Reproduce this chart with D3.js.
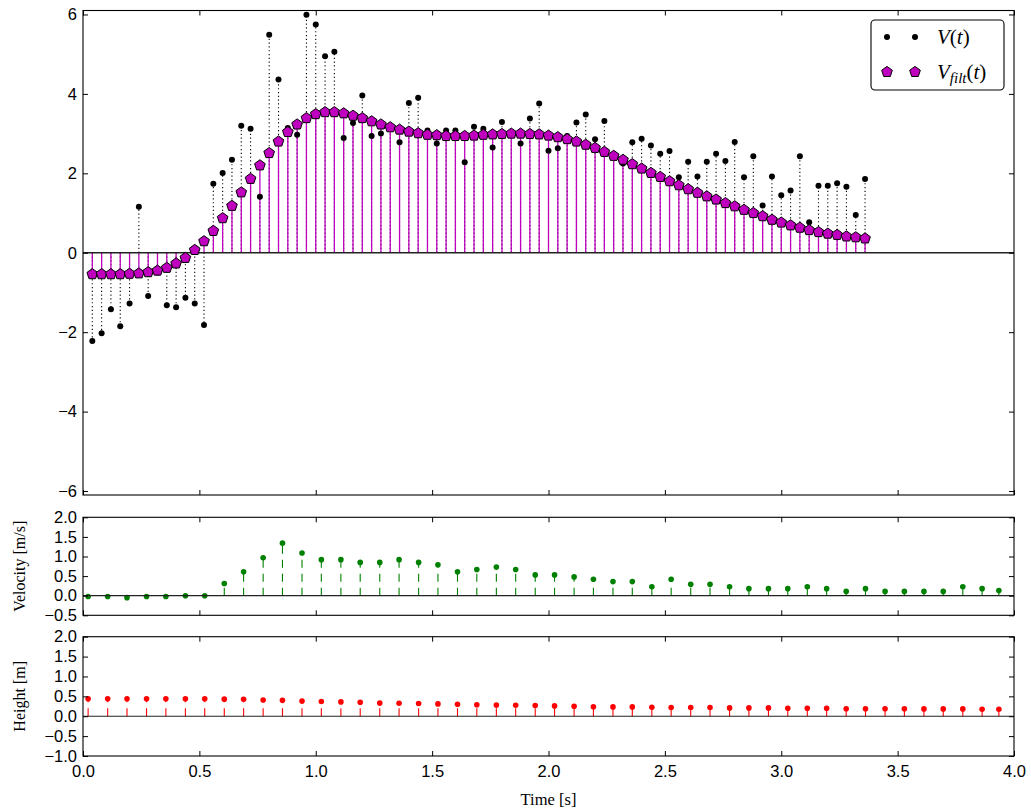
<!DOCTYPE html>
<html>
<head>
<meta charset="utf-8">
<script src="https://cdn.jsdelivr.net/npm/d3@7"></script>
<style>
  body { margin: 0; background: #ffffff; }
  svg { display: block; font-family: "Liberation Serif", "DejaVu Serif", serif; }
  .tick text { font-size: 16.5px; fill: #000; }
</style>
</head>
<body>
<div id="chart"></div>
<script>
// sample times of the raw / filtered signal [s]
const timeV = [0.04, 0.08, 0.12, 0.16, 0.20, 0.24, 0.28, 0.32, 0.36, 0.40,
  0.44, 0.48, 0.52, 0.56, 0.60, 0.64, 0.68, 0.72, 0.76, 0.80,
  0.84, 0.88, 0.92, 0.96, 1.00, 1.04, 1.08, 1.12, 1.16, 1.20,
  1.24, 1.28, 1.32, 1.36, 1.40, 1.44, 1.48, 1.52, 1.56, 1.60,
  1.64, 1.68, 1.72, 1.76, 1.80, 1.84, 1.88, 1.92, 1.96, 2.00,
  2.04, 2.08, 2.12, 2.16, 2.20, 2.24, 2.28, 2.32, 2.36, 2.40,
  2.44, 2.48, 2.52, 2.56, 2.60, 2.64, 2.68, 2.72, 2.76, 2.80,
  2.84, 2.88, 2.92, 2.96, 3.00, 3.04, 3.08, 3.12, 3.16, 3.20,
  3.24, 3.28, 3.32, 3.36];

const V = [-2.22, -2.03, -1.42, -1.85, -1.28, 1.16, -1.09, -0.50, -1.32, -1.37,
  -1.13, -1.28, -1.82, 1.74, 2.01, 2.34, 3.20, 3.12, 1.41, 5.49,
  4.36, 3.14, 2.97, 5.99, 5.75, 4.95, 5.06, 2.89, 3.27, 3.96,
  2.94, 3.00, 3.16, 2.78, 3.77, 3.90, 3.08, 2.75, 3.08, 3.08,
  2.28, 3.17, 3.12, 2.65, 3.29, 3.00, 2.75, 3.38, 3.76, 2.57,
  2.63, 2.94, 3.28, 3.48, 2.86, 3.32, 2.44, 2.25, 2.78, 2.87,
  2.70, 2.49, 2.56, 1.90, 2.29, 1.92, 2.29, 2.49, 2.31, 2.79,
  1.90, 2.43, 1.19, 1.92, 1.45, 1.57, 2.43, 0.77, 1.69, 1.69,
  1.75, 1.66, 0.95, 1.86];

const Vfilt = [-0.54, -0.54, -0.54, -0.54, -0.53, -0.52, -0.49, -0.45, -0.38, -0.27,
  -0.13, 0.07, 0.29, 0.55, 0.87, 1.18, 1.52, 1.86, 2.20, 2.51,
  2.80, 3.04, 3.23, 3.39, 3.49, 3.54, 3.54, 3.51, 3.45, 3.39,
  3.31, 3.23, 3.16, 3.10, 3.05, 3.01, 2.97, 2.96, 2.94, 2.94,
  2.94, 2.95, 2.97, 2.98, 2.99, 3.00, 3.00, 2.99, 2.98, 2.95,
  2.91, 2.86, 2.80, 2.72, 2.64, 2.54, 2.44, 2.34, 2.23, 2.12,
  2.01, 1.91, 1.80, 1.70, 1.60, 1.51, 1.42, 1.34, 1.25, 1.17,
  1.08, 1.00, 0.92, 0.83, 0.76, 0.69, 0.63, 0.57, 0.52, 0.48,
  0.45, 0.41, 0.39, 0.36];

// sample times of velocity / height [s]
const timeK = [0.022, 0.106, 0.189, 0.273, 0.356, 0.440, 0.523, 0.607, 0.690, 0.774,
  0.857, 0.941, 1.024, 1.108, 1.191, 1.275, 1.358, 1.442, 1.525, 1.609,
  1.692, 1.776, 1.859, 1.943, 2.026, 2.110, 2.193, 2.277, 2.360, 2.444,
  2.527, 2.611, 2.694, 2.778, 2.861, 2.945, 3.028, 3.112, 3.195, 3.279,
  3.362, 3.446, 3.529, 3.613, 3.696, 3.780, 3.863, 3.935];

const velocity = [-0.02, -0.02, -0.05, -0.02, -0.02, 0.00, 0.00, 0.31, 0.61, 0.97,
  1.34, 1.09, 0.92, 0.92, 0.85, 0.85, 0.92, 0.85, 0.79, 0.61,
  0.67, 0.73, 0.67, 0.53, 0.53, 0.48, 0.42, 0.36, 0.36, 0.23,
  0.42, 0.29, 0.29, 0.23, 0.18, 0.18, 0.18, 0.23, 0.18, 0.11,
  0.18, 0.11, 0.11, 0.11, 0.11, 0.23, 0.18, 0.13];

const height = [0.44, 0.44, 0.44, 0.44, 0.44, 0.44, 0.44, 0.43, 0.425, 0.41,
  0.40, 0.38, 0.37, 0.36, 0.35, 0.33, 0.325, 0.32, 0.31, 0.30,
  0.29, 0.28, 0.275, 0.27, 0.26, 0.25, 0.24, 0.235, 0.235, 0.225,
  0.22, 0.22, 0.22, 0.21, 0.21, 0.21, 0.20, 0.20, 0.20, 0.19,
  0.19, 0.19, 0.19, 0.185, 0.185, 0.185, 0.175, 0.175];

const xTicks = [0, 0.5, 1.0, 1.5, 2.0, 2.5, 3.0, 3.5, 4.0];
const topTicks = [-6, -4, -2, 0, 2, 4, 6];
const velTicks = [-0.5, 0.0, 0.5, 1.0, 1.5, 2.0];
const hTicks = [-1.0, -0.5, 0.0, 0.5, 1.0, 1.5, 2.0];

const width = 1031, height_px = 812;
const left = 83, right = 1014;

let svg = d3.select("#chart").append("svg")
    .attr("width", width)
    .attr("height", height_px);
svg.append("rect").attr("width", width).attr("height", height_px).attr("fill", "#fff");

let x = d3.scaleLinear().domain([0, 4]).range([left, right]);
let yTop = d3.scaleLinear().domain([-6.1, 6.1]).range([495, 10.5]);
let yVel = d3.scaleLinear().domain([-0.5, 2.0]).range([615.3, 517.3]);
let yH = d3.scaleLinear().domain([-1.0, 2.0]).range([756, 636.7]);

// pentagon marker, point up
function pentagon(r) {
    let pts = [];
    for (let k = 0; k < 5; k++) {
        let a = -Math.PI / 2 + k * 2 * Math.PI / 5;
        pts.push([r * Math.cos(a), r * Math.sin(a)]);
    }
    return "M" + pts.map(p => p[0].toFixed(2) + "," + p[1].toFixed(2)).join("L") + "Z";
}

function drawAxes(y, yticks, yfmt, xLabels) {
    let g = svg.append("g");
    let y0 = y.range()[0], y1 = y.range()[1];
    g.append("g").attr("transform", "translate(" + left + ",0)")
        .call(d3.axisLeft(y).tickValues(yticks).tickFormat(yfmt).tickSizeInner(-5).tickSizeOuter(0).tickPadding(6));
    g.append("g").attr("transform", "translate(" + right + ",0)")
        .call(d3.axisRight(y).tickValues(yticks).tickFormat("").tickSizeInner(-5).tickSizeOuter(0));
    g.append("g").attr("transform", "translate(0," + y1 + ")")
        .call(d3.axisTop(x).tickValues(xTicks).tickFormat("").tickSizeInner(-5).tickSizeOuter(0));
    g.append("g").attr("transform", "translate(0," + y0 + ")")
        .call(d3.axisBottom(x).tickValues(xTicks).tickFormat(xLabels ? d3.format(".1f") : "")
            .tickSizeInner(-5).tickSizeOuter(0).tickPadding(9));
    g.selectAll(".domain").remove();
    g.selectAll(".tick line").attr("stroke", "#000").attr("stroke-width", 1);
    g.append("rect")
        .attr("x", left).attr("y", y1)
        .attr("width", right - left).attr("height", y0 - y1)
        .attr("fill", "none").attr("stroke", "#000").attr("stroke-width", 1.1);
}

// ---------- top panel: V(t) and filtered ----------
let raw = timeV.map((t, i) => ({t: t, v: V[i], f: Vfilt[i]}));

svg.append("g").selectAll("line").data(raw).enter().append("line")
    .attr("x1", d => x(d.t)).attr("x2", d => x(d.t))
    .attr("y1", yTop(0)).attr("y2", d => yTop(d.v))
    .attr("stroke", "#000").attr("stroke-width", 1.1)
    .attr("stroke-dasharray", "1.2,2.6");

svg.append("g").selectAll("line").data(raw).enter().append("line")
    .attr("x1", d => x(d.t)).attr("x2", d => x(d.t))
    .attr("y1", yTop(0)).attr("y2", d => yTop(d.f))
    .attr("stroke", "#bf00bf").attr("stroke-width", 1.3);

svg.append("line")
    .attr("x1", left).attr("x2", right)
    .attr("y1", yTop(0)).attr("y2", yTop(0))
    .attr("stroke", "#222").attr("stroke-width", 1.6);

svg.append("g").selectAll("circle").data(raw).enter().append("circle")
    .attr("cx", d => x(d.t)).attr("cy", d => yTop(d.v))
    .attr("r", 3).attr("fill", "#000");

svg.append("g").selectAll("path").data(raw).enter().append("path")
    .attr("d", pentagon(5.6))
    .attr("transform", d => "translate(" + x(d.t) + "," + yTop(d.f) + ")")
    .attr("fill", "#bf00bf").attr("stroke", "#000").attr("stroke-width", 1);

drawAxes(yTop, topTicks, d3.format("d"), false);

// legend
let leg = svg.append("g");
leg.append("rect").attr("x", 871).attr("y", 20).attr("width", 133).attr("height", 70)
    .attr("rx", 4).attr("fill", "#fff").attr("stroke", "#000").attr("stroke-width", 1.1);
[887, 915].forEach(function (mx) {
    leg.append("circle").attr("cx", mx).attr("cy", 37).attr("r", 3).attr("fill", "#000");
    leg.append("path").attr("d", pentagon(5.6)).attr("transform", "translate(" + mx + ",72)")
        .attr("fill", "#bf00bf").attr("stroke", "#000").attr("stroke-width", 1);
});
let t1 = leg.append("text").attr("x", 937).attr("y", 44).style("font-size", "21px");
t1.append("tspan").style("font-style", "italic").text("V");
t1.append("tspan").text("(");
t1.append("tspan").style("font-style", "italic").text("t");
t1.append("tspan").text(")");
let t2 = leg.append("text").attr("x", 937).attr("y", 79).style("font-size", "21px");
t2.append("tspan").style("font-style", "italic").text("V");
t2.append("tspan").style("font-style", "italic").style("font-size", "15px").attr("dy", 4).text("filt");
t2.append("tspan").attr("dy", -4).text("(");
t2.append("tspan").style("font-style", "italic").text("t");
t2.append("tspan").text(")");

// ---------- velocity panel ----------
let kin = timeK.map((t, i) => ({t: t, v: velocity[i], h: height[i]}));

svg.append("g").selectAll("line").data(kin).enter().append("line")
    .attr("x1", d => x(d.t)).attr("x2", d => x(d.t))
    .attr("y1", yVel(0)).attr("y2", d => yVel(d.v))
    .attr("stroke", "#008000").attr("stroke-width", 1.1)
    .attr("stroke-dasharray", "8,6");
svg.append("g").selectAll("circle").data(kin).enter().append("circle")
    .attr("cx", d => x(d.t)).attr("cy", d => yVel(d.v))
    .attr("r", 2.8).attr("fill", "#008000");
svg.append("line")
    .attr("x1", left).attr("x2", right)
    .attr("y1", yVel(0)).attr("y2", yVel(0))
    .attr("stroke", "#222").attr("stroke-width", 1.2);
drawAxes(yVel, velTicks, d3.format(".1f"), false);

// ---------- height panel ----------
svg.append("g").selectAll("line").data(kin).enter().append("line")
    .attr("x1", d => x(d.t)).attr("x2", d => x(d.t))
    .attr("y1", yH(0)).attr("y2", d => yH(d.h))
    .attr("stroke", "#ff0000").attr("stroke-width", 1.1)
    .attr("stroke-dasharray", "8,6");
svg.append("g").selectAll("circle").data(kin).enter().append("circle")
    .attr("cx", d => x(d.t)).attr("cy", d => yH(d.h))
    .attr("r", 2.8).attr("fill", "#ff0000");
svg.append("line")
    .attr("x1", left).attr("x2", right)
    .attr("y1", yH(0)).attr("y2", yH(0))
    .attr("stroke", "#222").attr("stroke-width", 1.2);
drawAxes(yH, hTicks, d3.format(".1f"), true);

// axis titles
svg.append("text").attr("transform", "translate(19," + yVel(0.75) + ") rotate(-90)")
    .attr("text-anchor", "middle").attr("dominant-baseline", "central")
    .style("font-size", "16px").text("Velocity [m/s]");
svg.append("text").attr("transform", "translate(19," + yH(0.5) + ") rotate(-90)")
    .attr("text-anchor", "middle").attr("dominant-baseline", "central")
    .style("font-size", "16px").text("Height [m]");
svg.append("text").attr("x", (left + right) / 2).attr("y", 805)
    .attr("text-anchor", "middle").style("font-size", "16.5px").text("Time [s]");
</script>
</body>
</html>
